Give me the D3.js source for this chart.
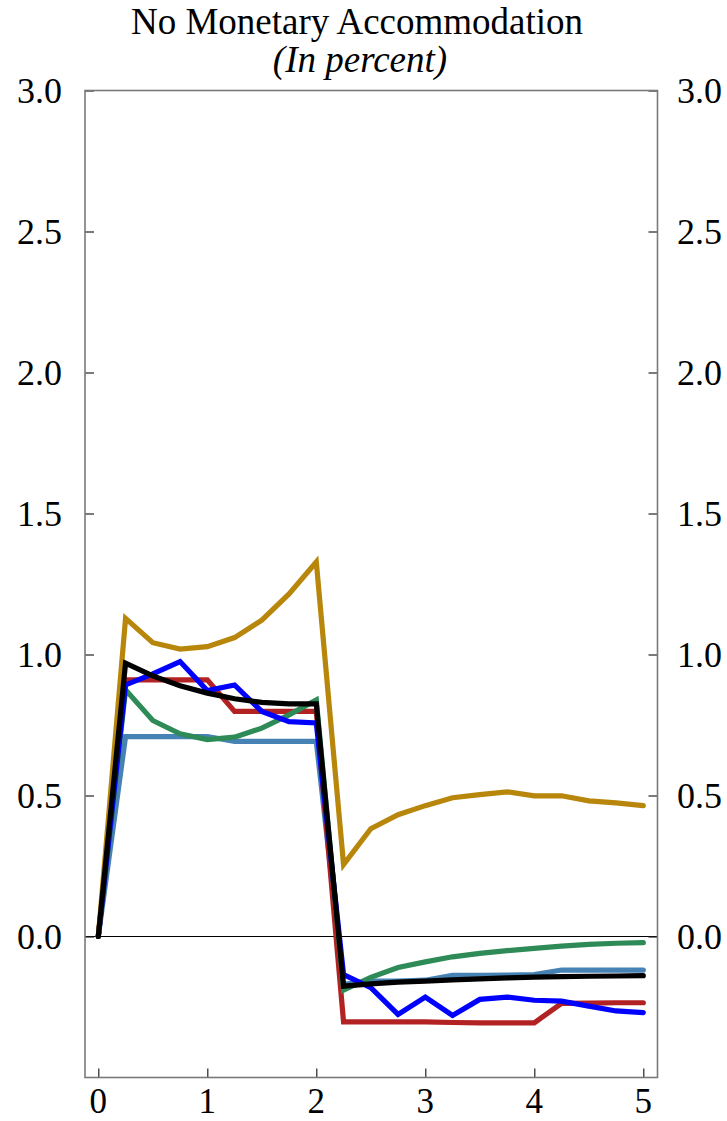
<!DOCTYPE html>
<html>
<head>
<meta charset="utf-8">
<script src="https://cdn.jsdelivr.net/npm/d3@7"></script>
<style>
  html, body { margin: 0; padding: 0; background: #fff; }
  svg { display: block; font-family: "Liberation Serif", "Times New Roman", serif; }
</style>
</head>
<body>
<svg id="chart" width="727" height="1121"></svg>
<script>
// Years after the shock (quarterly steps)
const quarters = [0, 0.25, 0.5, 0.75, 1, 1.25, 1.5, 1.75, 2, 2.25, 2.5, 2.75, 3, 3.25, 3.5, 3.75, 4, 4.25, 4.5, 4.75, 5];

// Response paths, in percent
const steelSeries = [0, 0.709, 0.709, 0.709, 0.709, 0.692, 0.692, 0.692, 0.692, -0.17, -0.158, -0.158, -0.155, -0.138, -0.138, -0.137, -0.135, -0.119, -0.119, -0.119, -0.119];
const redSeries   = [0, 0.91, 0.91, 0.91, 0.91, 0.798, 0.798, 0.798, 0.798, -0.303, -0.303, -0.303, -0.303, -0.305, -0.306, -0.306, -0.306, -0.237, -0.236, -0.235, -0.235];
const greenSeries = [0, 0.875, 0.766, 0.719, 0.698, 0.707, 0.739, 0.786, 0.839, -0.19, -0.145, -0.11, -0.09, -0.072, -0.06, -0.05, -0.042, -0.034, -0.028, -0.024, -0.022];
const blueSeries  = [0, 0.892, 0.931, 0.975, 0.872, 0.892, 0.798, 0.762, 0.757, -0.135, -0.181, -0.276, -0.215, -0.28, -0.223, -0.215, -0.226, -0.229, -0.247, -0.264, -0.27];
const goldSeries  = [0, 1.128, 1.042, 1.019, 1.028, 1.06, 1.122, 1.215, 1.328, 0.255, 0.382, 0.432, 0.464, 0.492, 0.503, 0.513, 0.499, 0.499, 0.481, 0.474, 0.464];
const blackSeries = [0, 0.969, 0.924, 0.889, 0.863, 0.843, 0.83, 0.825, 0.825, -0.176, -0.168, -0.162, -0.158, -0.154, -0.15, -0.147, -0.144, -0.142, -0.141, -0.14, -0.139];

const xTicks = [0, 1, 2, 3, 4, 5];
const yTicks = [0, 0.5, 1.0, 1.5, 2.0, 2.5, 3.0];

const titleText = "No Monetary Accommodation";
const subtitleText = "(In percent)";

const series = [
  { values: steelSeries, color: "#4682B4" },
  { values: redSeries,   color: "#B22222" },
  { values: greenSeries, color: "#2E8B57" },
  { values: blueSeries,  color: "#0000FF" },
  { values: goldSeries,  color: "#B8860B" },
  { values: blackSeries, color: "#000000" }
];

const svg = d3.select("#chart");
const plot = { left: 85, right: 657.5, top: 90.5, bottom: 1077.5 };

const x = d3.scaleLinear().domain([0, 5]).range([98.3, 643.3]);
const y = d3.scaleLinear().domain([-0.5, 3.0]).range([plot.bottom, plot.top]);

// Titles
svg.append("text")
  .attr("x", 357).attr("y", 34)
  .attr("text-anchor", "middle")
  .attr("font-size", 37)
  .text(titleText);
svg.append("text")
  .attr("x", 360).attr("y", 72)
  .attr("text-anchor", "middle")
  .attr("font-size", 37)
  .attr("font-style", "italic")
  .text(subtitleText);

// Zero line
svg.append("line")
  .attr("x1", plot.left).attr("x2", plot.right)
  .attr("y1", y(0)).attr("y2", y(0))
  .attr("stroke", "#000").attr("stroke-width", 1.2);

// Lines
const line = d3.line()
  .x((d, i) => x(quarters[i]))
  .y(d => y(d));

svg.append("g").selectAll("path")
  .data(series)
  .join("path")
  .attr("d", d => line(d.values))
  .attr("fill", "none")
  .attr("stroke", d => d.color)
  .attr("stroke-width", 5.2)
  .attr("stroke-linecap", "round")
  .attr("stroke-linejoin", "miter");

// Axes with inward ticks
const tickLen = 9;
const leftAxis = d3.axisRight(y).tickValues(yTicks).tickSize(tickLen).tickFormat("");
const rightAxis = d3.axisLeft(y).tickValues(yTicks).tickSize(tickLen).tickFormat("");
const bottomAxis = d3.axisTop(x).tickValues(xTicks).tickSize(tickLen).tickFormat("");

function styleAxis(g) {
  g.select(".domain").remove();
  g.selectAll(".tick line").attr("stroke", "#222").attr("stroke-width", 1.2);
}

svg.append("g").attr("transform", `translate(${plot.left},0)`).call(leftAxis).call(styleAxis);
svg.append("g").attr("transform", `translate(${plot.right},0)`).call(rightAxis).call(styleAxis);
svg.append("g").attr("transform", `translate(0,${plot.bottom})`).call(bottomAxis).call(styleAxis);

// Frame
svg.append("rect")
  .attr("x", plot.left).attr("y", plot.top)
  .attr("width", plot.right - plot.left)
  .attr("height", plot.bottom - plot.top)
  .attr("fill", "none")
  .attr("stroke", "#7a7a7a")
  .attr("stroke-width", 1.6);

// Tick labels
const fmt = d3.format(".1f");
svg.append("g").selectAll("text")
  .data(yTicks).join("text")
  .attr("x", 62).attr("y", d => y(d) + 12.5)
  .attr("text-anchor", "end")
  .attr("font-size", 36)
  .text(d => fmt(d));
svg.append("g").selectAll("text")
  .data(yTicks).join("text")
  .attr("x", 677).attr("y", d => y(d) + 12.5)
  .attr("text-anchor", "start")
  .attr("font-size", 36)
  .text(d => fmt(d));
svg.append("g").selectAll("text")
  .data(xTicks).join("text")
  .attr("x", d => x(d)).attr("y", 1113)
  .attr("text-anchor", "middle")
  .attr("font-size", 35)
  .text(d => d);
</script>
</body>
</html>
